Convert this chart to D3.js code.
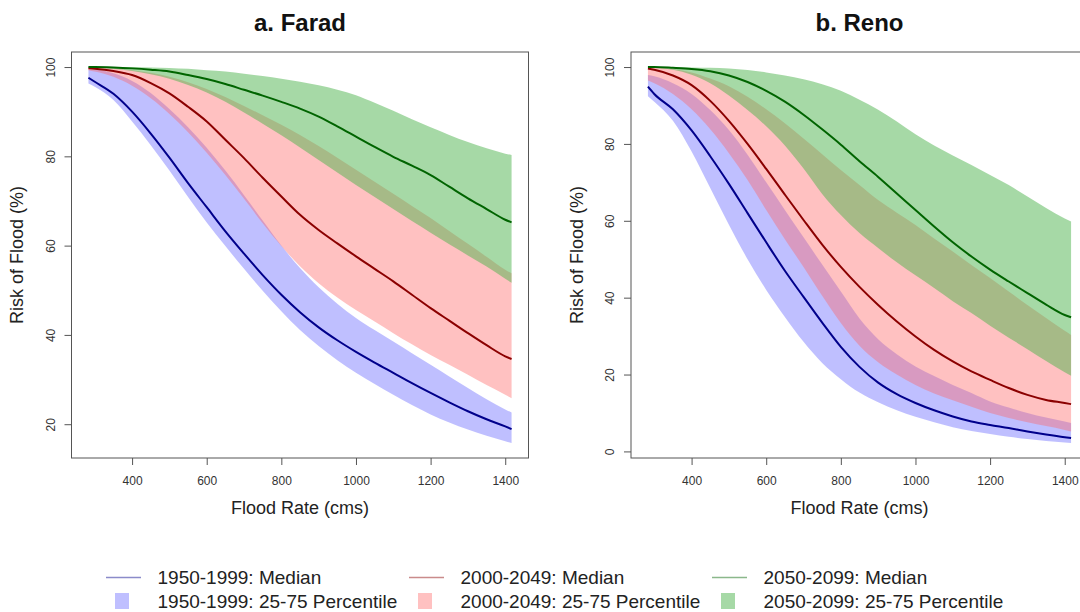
<!DOCTYPE html>
<html>
<head>
<meta charset="utf-8">
<script src="https://cdn.jsdelivr.net/npm/d3@7"></script>
<style>
  body { margin: 0; background: #fff; }
  svg { display: block; font-family: "Liberation Sans", Arial, sans-serif; }
</style>
</head>
<body>
<svg id="chart" width="1080" height="612"></svg>
<script>
// ---------------- DATA ----------------
const floodRate = [283,300,350,400,450,500,550,600,650,700,750,800,850,900,950,1000,1050,1100,1150,1200,1250,1300,1350,1400,1417];

const xTickValues = [400,600,800,1000,1200,1400];
const faradYTicks = [20,40,60,80,100];
const renoYTicks = [0,20,40,60,80,100];

const panelTitles = ["a. Farad", "b. Reno"];
const periodLabels = ["1950-1999", "2000-2049", "2050-2099"];

// Farad
const farad1950_p25 = [96.3,95.6,92.6,87.8,82.5,76.8,70.9,65.2,59.9,54.8,49.9,45.3,41.1,37.5,34.3,31.5,29.0,26.6,24.3,22.2,20.4,18.8,17.4,16.2,15.8];
const farad1950_med = [97.6,96.7,94.0,90.0,85.1,79.7,74.0,68.6,63.2,58.2,53.4,49.0,45.1,41.7,38.8,36.2,33.8,31.5,29.2,27.0,24.9,22.9,21.1,19.5,18.9];
const farad1950_p75 = [99.4,99.4,98.6,96.9,94.2,90.6,86.5,81.9,76.8,71.3,65.6,60.0,55.0,50.7,47.0,43.8,41.1,38.5,35.9,33.3,30.7,28.1,25.6,23.3,22.6];
const farad2000_p25 = [99.3,99.0,97.8,95.8,93.0,89.5,85.4,80.8,75.8,70.5,65.0,59.9,55.4,51.6,48.4,45.6,43.0,40.4,37.9,35.5,33.3,31.1,28.8,26.6,25.8];
const farad2000_med = [99.7,99.6,99.1,98.2,96.4,94.1,91.1,87.8,83.7,79.6,75.2,71.0,66.9,63.5,60.5,57.6,54.8,52.0,49.0,46.0,43.2,40.4,37.7,35.2,34.6];
const farad2000_p75 = [99.9,99.9,99.7,99.3,98.7,97.8,96.6,95.1,93.3,91.3,89.2,87.1,84.8,82.3,79.7,77.0,74.3,71.6,68.9,66.2,63.3,60.4,57.5,54.6,53.8];
const farad2050_p25 = [100,99.9,99.6,99.1,98.4,97.4,96.0,94.3,92.2,89.8,87.3,84.7,82.0,79.2,76.4,73.6,70.9,68.2,65.5,62.9,60.3,57.8,55.3,52.6,51.7];
const farad2050_med = [100,100,99.9,99.7,99.4,99.0,98.2,97.3,96.2,94.9,93.6,92.2,90.7,88.9,86.7,84.4,82.1,79.9,77.9,75.8,73.2,70.6,68.2,65.8,65.2];
const farad2050_p75 = [100,100,100,100,99.9,99.8,99.6,99.3,99.0,98.5,98.0,97.4,96.7,95.9,94.9,93.7,92.0,90.2,88.3,86.5,84.8,83.2,81.8,80.6,80.3];

// Reno
const reno1950_p25 = [92.4,91.0,86.0,78.0,68.5,59.0,50.0,42.0,35.0,28.5,23.0,18.8,15.3,12.8,10.7,9.0,7.6,6.3,5.3,4.5,3.8,3.2,2.7,2.3,2.2];
const reno1950_med = [94.9,93.0,89.0,83.5,76.8,69.6,62.0,54.4,47.0,40.2,33.5,27.2,22.0,17.9,14.9,12.6,10.7,9.1,7.8,6.9,6.1,5.2,4.4,3.7,3.5];
const reno1950_p75 = [97.9,97.6,95.8,93.0,88.8,83.6,77.2,70.0,62.8,55.7,48.6,41.6,34.6,29.2,25.3,22.1,19.6,17.3,15.2,13.0,11.4,10.0,8.8,7.8,7.4];
const reno2000_p25 = [96.5,95.8,93.0,89.0,83.8,77.6,70.6,62.8,55.2,48.0,40.5,33.4,27.5,23.2,20.0,17.3,15.1,13.3,11.6,10.0,8.7,7.6,6.6,5.6,5.2];
const reno2000_med = [99.6,99.3,97.8,95.3,91.2,86.0,80.0,73.5,66.8,60.2,53.8,48.0,42.8,38.1,33.8,29.9,26.4,23.4,20.8,18.6,16.5,14.7,13.4,12.6,12.3];
const reno2000_p75 = [100,99.9,99.5,98.6,97.0,95.0,92.3,89.0,85.4,81.4,77.3,73.2,69.3,65.4,62.1,58.9,55.4,52.0,48.5,45.1,41.6,38.1,34.7,31.4,30.3];
const reno2050_p25 = [100,99.9,99.3,98.0,95.8,92.6,88.8,84.6,79.6,73.6,67.0,61.5,56.8,52.9,49.2,45.8,42.5,39.1,36.0,32.7,29.6,26.6,23.5,20.6,19.7];
const reno2050_med = [100,100,99.8,99.5,98.9,97.8,96.1,93.8,91.0,87.6,83.8,79.8,75.5,71.4,67.1,62.8,58.5,54.4,50.7,47.3,44.2,41.2,38.2,35.5,34.9];
const reno2050_p75 = [100,100,100,99.9,99.8,99.6,99.2,98.6,97.8,96.8,95.5,93.8,91.5,88.9,85.8,82.5,79.6,77.0,74.5,71.9,69.3,66.3,63.3,60.6,59.8];

// ---------------- STYLE ----------------
const bandColors = ["rgba(0,0,255,0.25)", "rgba(255,100,100,0.4)", "rgba(77,179,77,0.5)"];
const medianColors = ["#00008B", "#8B0000", "#006400"];

const svg = d3.select("#chart");

const panels = [
  { title: panelTitles[0], left: 71.5, yTicks: faradYTicks,
    periods: [[farad1950_p25, farad1950_med, farad1950_p75],
              [farad2000_p25, farad2000_med, farad2000_p75],
              [farad2050_p25, farad2050_med, farad2050_p75]] },
  { title: panelTitles[1], left: 631, yTicks: renoYTicks,
    periods: [[reno1950_p25, reno1950_med, reno1950_p75],
              [reno2000_p25, reno2000_med, reno2000_p75],
              [reno2050_p25, reno2050_med, reno2050_p75]] }
];

const boxW = 457, plotTop = 52, plotBottom = 458;

function rExtend(ext) { const d = (ext[1] - ext[0]) * 0.04; return [ext[0] - d, ext[1] + d]; }

panels.forEach(p => {
  const g = svg.append("g");
  const x0 = p.left, x1 = p.left + boxW;
  const x = d3.scaleLinear().domain(rExtend(d3.extent(floodRate))).range([x0, x1]);
  const allVals = p.periods.flat(2);
  const y = d3.scaleLinear().domain(rExtend(d3.extent(allVals))).range([plotBottom, plotTop]);

  // bands
  p.periods.forEach((per, i) => {
    const area = d3.area().curve(d3.curveMonotoneX)
      .x((d, k) => x(floodRate[k]))
      .y0((d, k) => y(per[0][k]))
      .y1((d, k) => y(per[2][k]));
    g.append("path").datum(floodRate).attr("d", area).attr("fill", bandColors[i]).attr("stroke", "none");
  });
  // medians
  p.periods.forEach((per, i) => {
    const line = d3.line().curve(d3.curveMonotoneX)
      .x((d, k) => x(floodRate[k])).y((d, k) => y(per[1][k]));
    g.append("path").datum(floodRate).attr("d", line).attr("fill", "none")
      .attr("stroke", medianColors[i]).attr("stroke-width", 2).attr("stroke-linejoin", "round");
  });

  // box
  g.append("rect").attr("x", x0).attr("y", plotTop).attr("width", boxW).attr("height", plotBottom - plotTop)
    .attr("fill", "none").attr("stroke", "#555").attr("stroke-width", 1);

  // x axis
  const xa = g.append("g").attr("transform", `translate(0,${plotBottom})`)
    .call(d3.axisBottom(x).tickValues(xTickValues).tickSize(7).tickSizeOuter(0).tickFormat(d3.format("d")));
  xa.select(".domain").remove();
  xa.selectAll("line").attr("stroke", "#555");
  xa.selectAll("text").attr("y", 27).attr("dy", 0).attr("fill", "#333")
    .style("font-size", "12px").style("font-family", "Liberation Sans, Arial, sans-serif");

  // y axis
  const ya = g.append("g").attr("transform", `translate(${x0},0)`)
    .call(d3.axisLeft(y).tickValues(p.yTicks).tickSize(7).tickSizeOuter(0).tickFormat(d3.format("d")));
  ya.select(".domain").remove();
  ya.selectAll("line").attr("stroke", "#555");
  ya.selectAll("text").attr("x", 0).attr("dy", 0).attr("text-anchor", "middle")
    .attr("transform", "translate(-17,0) rotate(-90)").attr("fill", "#333")
    .style("font-size", "12px").style("font-family", "Liberation Sans, Arial, sans-serif");

  const cx = (x0 + x1) / 2;
  g.append("text").attr("x", cx).attr("y", 31).attr("text-anchor", "middle")
    .attr("font-weight", "bold").attr("font-size", 24).attr("fill", "#111").text(p.title);
  g.append("text").attr("x", cx).attr("y", 514).attr("text-anchor", "middle")
    .attr("font-size", 18).attr("fill", "#222").text("Flood Rate (cms)");
  g.append("text").attr("transform", `translate(${x0 - 48.5},${(plotTop + plotBottom) / 2}) rotate(-90)`)
    .attr("text-anchor", "middle").attr("font-size", 18).attr("fill", "#222").text("Risk of Flood (%)");
});

// ---------------- LEGEND ----------------
const leg = svg.append("g");
periodLabels.forEach((lab, i) => {
  const bx = 106 + i * 303;
  leg.append("line").attr("x1", bx).attr("x2", bx + 35).attr("y1", 577.5).attr("y2", 577.5)
    .attr("stroke", medianColors[i]).attr("stroke-width", 1.5).attr("opacity", 0.45);
  leg.append("text").attr("x", bx + 51.5).attr("y", 584).attr("font-size", 19).attr("fill", "#222")
    .text(lab + ": Median");
  leg.append("rect").attr("x", bx + 9).attr("y", 593).attr("width", 14).attr("height", 16)
    .attr("fill", bandColors[i]);
  leg.append("text").attr("x", bx + 51.5).attr("y", 608).attr("font-size", 19).attr("fill", "#222")
    .text(lab + ": 25-75 Percentile");
});
</script>
</body>
</html>
